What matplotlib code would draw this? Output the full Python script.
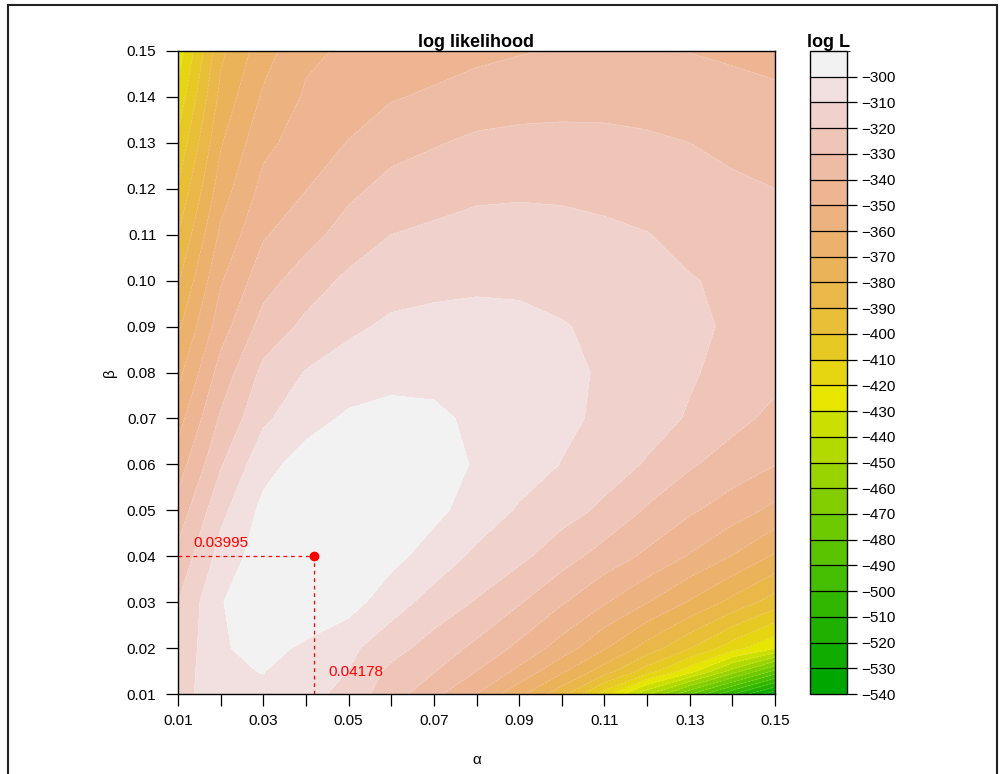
import colorsys
import numpy as np
import matplotlib
matplotlib.use('Agg')
import matplotlib.pyplot as plt
from matplotlib.colors import ListedColormap, BoundaryNorm
from matplotlib.colorbar import ColorbarBase
from matplotlib.patches import Rectangle

plt.rcParams['font.family'] = ['Liberation Sans', 'DejaVu Sans']

# grid of the likelihood surface
alpha_vals = [0.01, 0.02, 0.03, 0.04, 0.05, 0.06, 0.07, 0.08, 0.09, 0.10, 0.11, 0.12, 0.13, 0.14, 0.15]
beta_vals = [0.01, 0.015, 0.02, 0.03, 0.04, 0.05, 0.06, 0.07, 0.08, 0.09, 0.10, 0.11, 0.12, 0.13, 0.14, 0.15]

# one row per beta value, columns follow alpha_vals
loglik = [
    [-315.0, -302.0, -302.0, -305.5, -314.4, -325.2, -337.3, -350.0, -367.0, -386.4, -415.0, -448.0, -479.0, -509.0, -537.0],
    [-316.0, -301.5, -299.7, -304.8, -310.2, -322.5, -329.4, -340.0, -352.4, -368.1, -385.0, -404.8, -425.7, -453.8, -482.5],
    [-317.5, -301.0, -297.0, -301.6, -307.7, -316.1, -324.4, -332.3, -342.4, -354.4, -369.0, -384.1, -399.4, -415.4, -429.5],
    [-320.0, -300.5, -294.0, -293.0, -296.0, -305.7, -313.8, -320.8, -329.1, -339.0, -349.0, -359.5, -371.0, -383.0, -394.7],
    [-327.3, -306.5, -294.5, -292.0, -293.0, -297.0, -304.4, -312.1, -317.6, -325.6, -334.3, -342.0, -350.8, -360.4, -371.4],
    [-336.0, -312.7, -297.5, -293.0, -292.0, -293.5, -297.5, -304.5, -311.0, -316.0, -322.0, -331.2, -338.5, -345.0, -352.5],
    [-345.0, -321.0, -303.3, -296.0, -293.0, -293.0, -295.0, -301.1, -305.7, -310.3, -315.5, -320.9, -328.8, -334.6, -339.7],
    [-354.0, -328.7, -311.8, -303.6, -298.5, -296.5, -298.0, -302.0, -305.0, -308.1, -311.7, -316.2, -320.9, -327.0, -332.6],
    [-363.0, -336.0, -317.5, -309.5, -305.5, -303.5, -303.0, -304.5, -306.0, -308.0, -311.0, -315.0, -319.0, -323.0, -327.0],
    [-372.0, -344.5, -326.0, -317.8, -311.9, -308.3, -307.4, -307.8, -308.0, -309.4, -312.0, -315.5, -318.5, -321.0, -324.0],
    [-381.0, -351.0, -334.0, -324.8, -318.0, -313.9, -312.4, -311.2, -311.5, -313.2, -314.8, -317.5, -319.5, -321.5, -323.0],
    [-390.0, -358.0, -341.0, -333.8, -325.6, -320.0, -318.1, -316.5, -316.4, -317.2, -318.3, -319.7, -322.5, -324.0, -325.0],
    [-399.0, -365.0, -347.0, -340.3, -332.5, -326.7, -324.3, -322.1, -321.5, -321.6, -322.5, -324.2, -326.9, -328.5, -330.0],
    [-408.0, -371.0, -352.5, -345.4, -339.6, -333.7, -330.8, -328.1, -327.4, -327.3, -327.7, -328.5, -330.0, -332.0, -334.1],
    [-417.0, -377.0, -358.5, -348.7, -344.7, -340.8, -338.5, -335.6, -333.9, -333.2, -333.0, -333.8, -335.6, -336.9, -338.2],
    [-426.0, -382.3, -364.3, -351.9, -348.5, -346.5, -344.5, -342.5, -340.7, -339.3, -338.6, -339.0, -340.2, -341.5, -343.0],
]

axis_ticks = [0.01, 0.02, 0.03, 0.04, 0.05, 0.06, 0.07, 0.08, 0.09, 0.10, 0.11, 0.12, 0.13, 0.14, 0.15]
levels = list(range(-540, -289, 10))
bar_ticks = list(range(-540, -299, 10))

mle_alpha = 0.04178
mle_beta = 0.03995


def terrain_colors(n):
    # same recipe as R's terrain.colors()
    k = n // 2
    cols = []
    for t in np.linspace(0, 1, k):
        cols.append(colorsys.hsv_to_rgb(4/12 - 2/12 * t, 1.0, 0.65 + 0.25 * t))
    for t in np.linspace(0, 1, n - k + 1)[1:]:
        cols.append(colorsys.hsv_to_rgb(2/12 * (1 - t), 1 - t, 0.9 + 0.05 * t))
    return cols


cols = terrain_colors(len(levels) - 1)

fig = plt.figure(figsize=(10, 7.74), dpi=100)
ax = fig.add_axes([0.178, 1 - 694/774, 0.597, 643/774])

ax.contourf(alpha_vals, beta_vals, loglik, levels=levels, colors=cols)
ax.contour(alpha_vals, beta_vals, loglik, levels=levels, colors='white',
           linewidths=0.5, alpha=0.3)

# maximum likelihood point
ax.plot([0.01, mle_alpha], [mle_beta, mle_beta], color='red', lw=0.9, ls=(0, (3, 3)))
ax.plot([mle_alpha, mle_alpha], [0.01, mle_beta], color='red', lw=0.9, ls=(0, (3, 3)))
ax.plot(mle_alpha, mle_beta, 'o', color='red', ms=6)
ax.text(0.01352, 0.0429, f'{mle_beta:.5f}', color='red', fontsize=11, va='center')
ax.text(0.04518, 0.0148, f'{mle_alpha:.5f}', color='red', fontsize=11, va='center')

ax.set_xlim(0.01, 0.15)
ax.set_ylim(0.01, 0.15)
ax.set_xticks(axis_ticks)
ax.set_xticklabels([f'{a:.2f}' if i % 2 == 0 else '' for i, a in enumerate(axis_ticks)])
ax.set_yticks(axis_ticks)
ax.set_yticklabels([f'{b:.2f}' for b in axis_ticks])
ax.tick_params(direction='out', length=8.5, width=0.9, labelsize=11)
ax.tick_params(axis='x', pad=6)
ax.tick_params(axis='y', pad=7)
for s in ax.spines.values():
    s.set_linewidth(1.0)
ax.set_xlabel('α', fontsize=11, labelpad=18)
ax.set_ylabel('β', fontsize=11, labelpad=7)
ax.set_title('log likelihood', fontsize=13, fontweight='bold', pad=3)

# colour key
cax = fig.add_axes([0.81, 1 - 694/774, 0.037, 643/774])
cmap = ListedColormap(cols)
norm = BoundaryNorm(levels, cmap.N)
cb = ColorbarBase(cax, cmap=cmap, norm=norm, boundaries=levels, ticks=bar_ticks,
                  drawedges=True)
cb.dividers.set_color('black')
cb.dividers.set_linewidth(0.9)
cb.outline.set_linewidth(1.0)
cax.tick_params(direction='out', length=7, width=0.9, labelsize=11, pad=3)
cax.set_title('log L', fontsize=13, fontweight='bold', pad=3)

fig.add_artist(Rectangle((0.008, -0.01), 0.989, 1.01 - 5/774, transform=fig.transFigure,
                         fill=False, lw=1.5, ec='#222222'))

fig.savefig('out.png', dpi=100)
